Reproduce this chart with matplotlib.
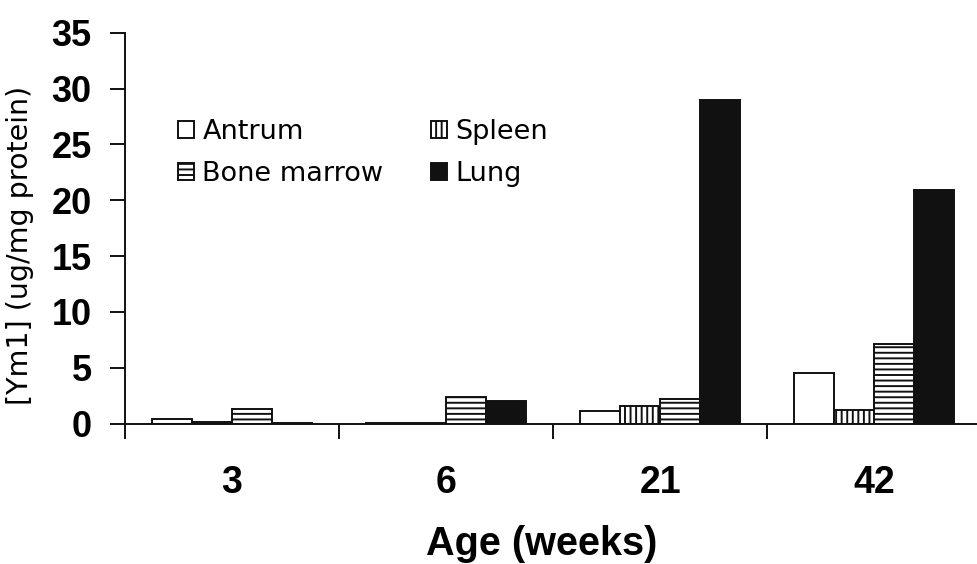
import matplotlib
matplotlib.use("Agg")
import matplotlib.pyplot as plt
import numpy as np

# Ym1 concentration by tissue and age
ages = ["3", "6", "21", "42"]
antrum = [0.4, 0.05, 1.1, 4.5]
spleen = [0.1, 0.05, 1.6, 1.2]
bone_marrow = [1.3, 2.4, 2.2, 7.1]
lung = [0.05, 2.0, 29.0, 20.9]
y_ticks = [0, 5, 10, 15, 20, 25, 30, 35]

series = [
    ("Antrum", antrum, "white", ""),
    ("Spleen", spleen, "white", "|||"),
    ("Bone marrow", bone_marrow, "white", "---"),
    ("Lung", lung, "#111111", ""),
]

plt.rcParams["font.family"] = ["Liberation Sans", "DejaVu Sans"]
plt.rcParams["hatch.linewidth"] = 1.4
plt.rcParams["hatch.color"] = "#111111"

fig = plt.figure(figsize=(9.78, 5.64), dpi=100)
ax = fig.add_axes([0.1278, 0.2491, 0.8755, 0.6929])

x = np.arange(len(ages))
w = 0.187
bars = {}
for i, (name, vals, fc, hatch) in enumerate(series):
    bars[name] = ax.bar(x + (i - 1.5) * w, vals, w, facecolor=fc,
                        edgecolor="#111111", linewidth=1.4, hatch=hatch,
                        label=name)

ax.set_xlim(-0.5, 3.5)
ax.set_ylim(0, 35)
ax.set_yticks(y_ticks)
ax.set_yticklabels([str(t) for t in y_ticks], fontsize=26, fontweight="bold")
ax.tick_params(axis="y", length=11, width=1.4, pad=13, color="#111111")

# group separators as major ticks, category names on minor ticks
ax.set_xticks([-0.5, 0.5, 1.5, 2.5, 3.5])
ax.set_xticklabels([])
ax.tick_params(axis="x", which="major", length=10.5, width=1.4,
               direction="out", color="#111111")
ax.set_xticks(x, minor=True)
ax.set_xticklabels(ages, minor=True, fontsize=27, fontweight="bold")
ax.tick_params(axis="x", which="minor", length=0, pad=30)

for s in ["top", "right"]:
    ax.spines[s].set_visible(False)
for s in ["left", "bottom"]:
    ax.spines[s].set_linewidth(1.4)
    ax.spines[s].set_color("#111111")

ax.set_xlabel("Age (weeks)", fontsize=28.5, fontweight="bold", va="baseline")
ax.xaxis.set_label_coords(0.487, -0.336)
ax.set_ylabel("[Ym1] (ug/mg protein)", fontsize=20.5, family="DejaVu Sans",
              va="center")
ax.yaxis.set_label_coords(-0.1227, 0.4565)

order = ["Antrum", "Bone marrow", "Spleen", "Lung"]
ax.legend([bars[n] for n in order], order, ncol=2, frameon=False,
          prop={"family": "DejaVu Sans", "size": 19.5},
          loc="upper left", bbox_to_anchor=(178 / 978, 1 - 119 / 564),
          bbox_transform=fig.transFigure, borderpad=0, borderaxespad=0,
          handlelength=0.6, handleheight=0.6, handletextpad=0.3,
          columnspacing=1.75, labelspacing=0.6)

fig.savefig("out.png", dpi=100, facecolor="white")
